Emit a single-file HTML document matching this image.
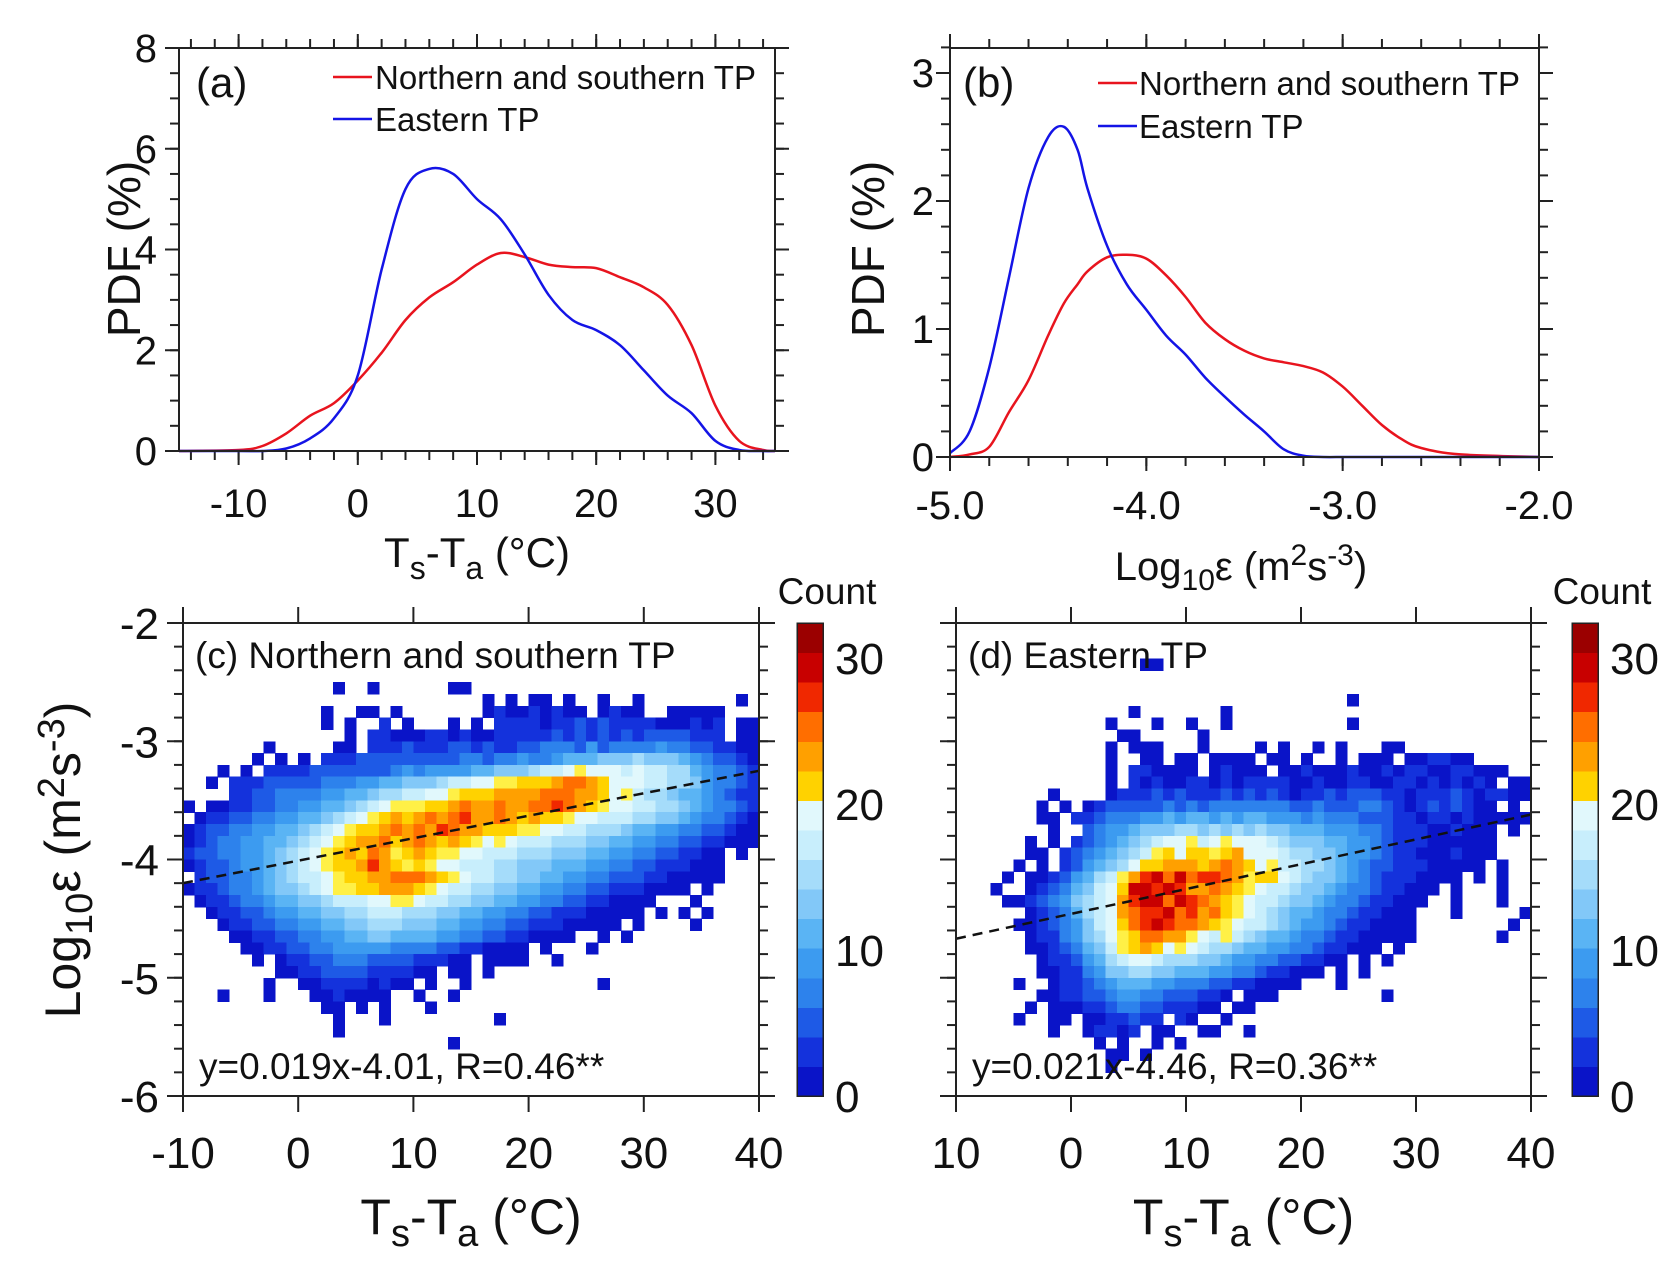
<!DOCTYPE html>
<html><head><meta charset="utf-8"><style>
html,body{margin:0;padding:0;background:#fff}
svg{display:block;font-family:"Liberation Sans",Arial,sans-serif}
</style></head><body>
<svg id="fig" width="1676" height="1277" viewBox="0 0 1676 1277" xmlns="http://www.w3.org/2000/svg">
<rect width="1676" height="1277" fill="#fff"/>
</svg>
<script>
// ---- Panel (a) data ----
const aX = [-15,-10,-8,-6,-4,-2,0,2,4,6,8,10,12,14,16,18,20,22,24,26,28,30,32,34,35];
const aRed = [0,0.02,0.1,0.35,0.7,0.95,1.4,1.95,2.6,3.05,3.35,3.7,3.93,3.85,3.7,3.65,3.63,3.45,3.25,2.9,2.1,0.9,0.2,0.02,0];
const aBlue = [0,0,0,0.05,0.25,0.65,1.5,3.6,5.2,5.6,5.5,5.0,4.6,3.9,3.1,2.6,2.4,2.1,1.6,1.1,0.75,0.2,0.02,0,0];
const aXTicks = [-10,0,10,20,30];
const aYTicks = [0,2,4,6,8];
// ---- Panel (b) data ----
const bX = [-5,-4.9,-4.8,-4.7,-4.6,-4.5,-4.42,-4.35,-4.3,-4.2,-4.1,-4.0,-3.9,-3.8,-3.7,-3.6,-3.5,-3.4,-3.3,-3.2,-3.1,-3.0,-2.9,-2.8,-2.7,-2.6,-2.4,-2.0];
const bBlue = [0.03,0.2,0.7,1.4,2.1,2.5,2.58,2.4,2.1,1.65,1.35,1.15,0.95,0.8,0.62,0.47,0.33,0.2,0.06,0.01,0,0,0,0,0,0,0,0];
const bRed = [0,0.02,0.08,0.35,0.6,0.95,1.2,1.35,1.45,1.56,1.58,1.55,1.42,1.25,1.05,0.92,0.83,0.77,0.74,0.71,0.66,0.55,0.4,0.25,0.14,0.07,0.02,0];
const bXTicks = ["-5.0","-4.0","-3.0","-2.0"];
const bYTicks = [0,1,2,3];
// ---- Heatmap data (levels: '.' empty, hex 0-f ; count ~ 2*level+1), rows top(-2) to bottom, cols x=-10..40 step 1 ----
const cRows = [
".......... .......... .......... .......... ..........",
".......... .......... .......... .......... ..........",
".......... .......... .......... .......... ..........",
".......... .......... .......... .......... ..........",
".......... .......... .......... .......... ..........",
".......... ...0..0... ...00..... .......... ..........",
".......... .......... ......0.0. 00.0..0..0 ........0.",
".......... ..0..00.0. ......0100 10100.0100 ..00000...",
".......... ..0.0..1.0 ...0.0.111 1011212111 1000101.00",
".......... ....0.1100 0110100111 1121212121 2222111.00",
".......0.. ...00.1112 1112212112 2333242333 3433221100",
"......0.0. 0.11122222 2222332334 3345556667 6665432210",
"...0.0.111 1222222234 3444455666 7889a99989 8877543321",
"..0.111222 2233344556 6678899aab bbcddcb999 8877643321",
"....112233 3344556778 899abbbccc cdddccb9a8 7765543211",
"0.00112233 44556789aa abbcdccdcc ddedcba998 8776543321",
".011223344 556789abcb cdcdeccdcb cbba998887 7665433210",
"0122334455 6789abbcdc dcedccbbba a998877765 5443322100",
"0123344556 789abccdbc dcbcba9a98 8877766554 4332211000",
"1223344567 89abcbdcab cbaa998887 7766655443 3221100.0.",
"0122344567 89abbcecba ba99888776 6655544332 2111000...",
".122334567 889abbccdd dcba988776 6554433222 1100000...",
"0112334566 789aabbccc ba98877665 5443322111 0000.0....",
".011233455 66788899aa 9887766554 4332211000 0...0.....",
"..01122344 5566778887 7766554433 2211100000 .0.0.0....",
"...0112233 4455667776 6655443322 11100000.0 ....0.....",
"....001122 3344556655 5544332211 0000..0.0. ..........",
".....00112 2334444433 3322110000 .0...0.... ..........",
"......0.01 1223332222 11100.0000 ..0....... ..........",
"........00 1122221111 00.00.0... .......... ..........",
".......0.. 0011110100 .0..0..... ......0... ..........",
"...0...0.. .0010000.. 0..0...... .......... ..........",
".......... ..00.0.0.. .0........ .......... ..........",
".......... ...0...0.. .......0.. .......... ..........",
".......... ...0...... .......... .......... ..........",
".......... .......... ...0...... .......... .........."
];
const dRows = [
".......... .......... .......... .......... ..........",
".......... .......... .......... .......... ..........",
".......... .......... .......... .......... ..........",
".......... ......00.. .......... .......... ..........",
".......... .......... .......... .......... ..........",
".......... .......... .......... .......... ..........",
".......... .......... .......... ....0..... ..........",
".......... .....0.... ...0...... .......... ..........",
".......... ...0...0.. 0..0...... ....0..... ..........",
".......... ....00.... .0........ .......... ..........",
".......... ...0.000.. .0....0.0. .0.0...00. ..........",
".......... ...0..00.0 0.0000.00. 0..0.000.0 01100.....",
".......... ...0.11000 0.01000.00 1000100101 10011000..",
".......... ...0.10100 1101011110 0100110011 0101010.00",
"........0. ...0111212 1112121210 1121222110 1112101100",
".......0.0 .012222232 3233333332 2322233210 1212100.0.",
".......00. 1123334454 5545455444 3433322211 0110100000",
"........0. .234456667 7676767665 5544433211 1001000.0.",
"......0.0. 1234567899 a89a999876 6655443211 1000000...",
"......00.1 2345678ab9 bbabc99987 7665443211 0001000...",
".....0.0.1 245679bbcc cbcdcb9a88 7765432211 100000.0..",
"....0.0012 4578acefdf deedcabb98 7665432111 0000.0.0..",
"...0..0123 5689bffefe ccdcba9887 6654332110 00.0...0..",
"....001234 6789ceffdf edcba98876 6543321100 0..0...0..",
"......0123 5789cdeefd ecdba98765 5433211000 ...0.....0",
".....00123 4689bdefed dcba988765 4432110000 ........0.",
"......0113 4679abddcc a98a876554 3321100000 .......0..",
"......0012 3568abcb9a 9877655443 3211000.0. ..........",
".......011 2457899877 7665443322 1100.0.0.. ..........",
".......001 1346677665 5544332110 00.0.0.... ..........",
".....0..01 1234555443 3322110000 ...0...... ..........",
".......001 1223443322 2110.000.. .......0.. ..........",
"......0.00 0112332211 100.00.... .......... ..........",
".....0..00 .0011211.1 0..0...... .......... ..........",
"........0. .01101.00. .00..0.... .......... ..........",
".......... ..0.0..0.0 .......... .......... ..........",
".......... ...00.0... .......... .......... ..........",
".......... ...0...... .......... .......... .........."
];
const heatXStart = -10, heatXStep = 1, heatYStart = -2, heatYStep = -0.1;
const cFit = [0.019, -4.01];
const dFit = [0.021, -4.46];
const cXTicks = [-10,0,10,20,30,40];
const dXTickLabels = ["10","0","10","20","30","40"];
const dXTicks = [-10,0,10,20,30,40];
const hmYTicks = [-2,-3,-4,-5,-6];
const cbTicks = [0,10,20,30];
const cbColors = ["#0a14c8","#1432dc","#1e5ae6","#2d82ec","#3c9bf0","#5ab4f4","#82c8f8","#a5dcfa","#c8eefc","#e1f8fc","#fff046","#ffd200","#ffa000","#ff6e00","#f02800","#c80000","#9b0000"];

const NS="http://www.w3.org/2000/svg";
const svg=document.getElementById('fig');
function mk(tag,attrs,parent){const e=document.createElementNS(NS,tag);for(const k in attrs)e.setAttribute(k,attrs[k]);(parent||svg).appendChild(e);return e;}
function txt(s,x,y,size,anchor,parent,extra){const t=mk('text',Object.assign({x:x,y:y,'font-size':size,'text-anchor':anchor||'middle',fill:'#111'},extra||{}),parent);t.textContent=s;return t;}
function lin(d0,d1,r0,r1){return v=>r0+(v-d0)/(d1-d0)*(r1-r0);}

function frame(g,L,R,T,B){
  mk('rect',{x:L,y:T,width:R-L,height:B-T,fill:'none',stroke:'#222','stroke-width':2},g);
}
function ticksX(g,sx,vals,T,B,len){vals.forEach(v=>{const x=sx(v);mk('line',{x1:x,x2:x,y1:B,y2:B+len,stroke:'#222','stroke-width':2},g);mk('line',{x1:x,x2:x,y1:T,y2:T-len,stroke:'#222','stroke-width':2},g);});}
function ticksY(g,sy,vals,L,R,len){vals.forEach(v=>{const y=sy(v);mk('line',{x1:L,x2:L-len,y1:y,y2:y,stroke:'#222','stroke-width':2},g);mk('line',{x1:R,x2:R+len,y1:y,y2:y,stroke:'#222','stroke-width':2},g);});}
function range(a,b,s){const r=[];for(let v=a;v<=b+1e-9;v+=s)r.push(+v.toFixed(4));return r;}
function smoothPath(pts){let d='M'+pts[0][0]+','+pts[0][1];for(let i=0;i<pts.length-1;i++){const p0=pts[Math.max(0,i-1)],p1=pts[i],p2=pts[i+1],p3=pts[Math.min(pts.length-1,i+2)];const c1=[p1[0]+(p2[0]-p0[0])/6,p1[1]+(p2[1]-p0[1])/6],c2=[p2[0]-(p3[0]-p1[0])/6,p2[1]-(p3[1]-p1[1])/6];d+=' C'+c1[0].toFixed(1)+','+c1[1].toFixed(1)+' '+c2[0].toFixed(1)+','+c2[1].toFixed(1)+' '+p2[0].toFixed(1)+','+p2[1].toFixed(1);}return d;}

// ===== Panel a =====
(function(){
  const g=mk('g',{});
  
  
  const L=179,R=775,T=48,B=451;
  const sx=lin(-15,35,L,R), sy=lin(0,8,B,T);
  ticksX(g,sx,range(-14,34,2),T,B,9);ticksX(g,sx,aXTicks,T,B,14);
  ticksY(g,sy,range(0,8,0.5),L,R,9);ticksY(g,sy,aYTicks,L,R,14);
  const red=mk('path',{d:smoothPath(aX.map((x,i)=>[sx(x),sy(aRed[i])])),fill:'none',stroke:'#e8141e','stroke-width':2.5},g);
  
  
  const blue=mk('path',{d:smoothPath(aX.map((x,i)=>[sx(x),sy(aBlue[i])])),fill:'none',stroke:'#1414e6','stroke-width':2.5},g);
  
  
  frame(g,L,R,T,B);
  aXTicks.forEach(v=>txt(String(v),sx(v),517,40,'middle',g));
  aYTicks.forEach(v=>txt(String(v),L-22,sy(v)+14,40,'end',g));
  const yt=txt('PDF (%)',0,0,46,'middle',g,{transform:'translate(140,249) rotate(-90)'});
  
  
  const xt=mk('text',{x:sx(10),y:567,'font-size':42,'text-anchor':'middle',fill:'#111'},g);
  xt.innerHTML='T<tspan font-size="32" dy="12">s</tspan><tspan dy="-12">-T</tspan><tspan font-size="32" dy="12">a</tspan><tspan dy="-12"> (°C)</tspan>';
  
  
  txt('(a)',196,97,42,'start',g);
  const lg=mk('g',{},g);
  
  
  mk('line',{x1:333,x2:372,y1:77,y2:77,stroke:'#e8141e','stroke-width':2.5},lg);
  txt('Northern and southern TP',375,89,33,'start',lg);
  mk('line',{x1:333,x2:372,y1:119,y2:119,stroke:'#1414e6','stroke-width':2.5},lg);
  txt('Eastern TP',375,131,33,'start',lg);
})();

// ===== Panel b =====
(function(){
  const g=mk('g',{});
  
  
  const L=950,R=1539,T=48,B=457;
  const sx=lin(-5,-2,L,R), sy=lin(0,3,B,73);
  ticksX(g,sx,range(-5,-2,0.2),T,B,9);ticksX(g,sx,[-5,-4,-3,-2],T,B,14);
  ticksY(g,sy,range(0,3.2,0.2),L,R,9);ticksY(g,sy,bYTicks,L,R,14);
  const red=mk('path',{d:smoothPath(bX.map((x,i)=>[sx(x),sy(bRed[i])])),fill:'none',stroke:'#e8141e','stroke-width':2.5},g);
  
  
  const blue=mk('path',{d:smoothPath(bX.map((x,i)=>[sx(x),sy(bBlue[i])])),fill:'none',stroke:'#1414e6','stroke-width':2.5},g);
  
  
  frame(g,L,R,T,B);
  bXTicks.forEach(s=>txt(s,sx(parseFloat(s)),519,40,'middle',g));
  bYTicks.forEach(v=>txt(String(v),L-16,sy(v)+14,40,'end',g));
  const yt=txt('PDF (%)',0,0,46,'middle',g,{transform:'translate(884,249) rotate(-90)'});
  
  
  const xt=mk('text',{x:1241,y:580,'font-size':40,'text-anchor':'middle',fill:'#111'},g);
  xt.innerHTML='Log<tspan font-size="30" dy="10">10</tspan><tspan dy="-10">ε (m</tspan><tspan font-size="30" dy="-15">2</tspan><tspan dy="15">s</tspan><tspan font-size="30" dy="-15">-3</tspan><tspan dy="15">)</tspan>';
  
  
  txt('(b)',963,97,42,'start',g);
  const lg=mk('g',{},g);
  
  
  mk('line',{x1:1098,x2:1137,y1:83,y2:83,stroke:'#e8141e','stroke-width':2.5},lg);
  txt('Northern and southern TP',1139,95,33,'start',lg);
  mk('line',{x1:1098,x2:1137,y1:126,y2:126,stroke:'#1414e6','stroke-width':2.5},lg);
  txt('Eastern TP',1139,138,33,'start',lg);
})();

// ===== Heatmap panels =====
function heat(name,rows,fit,L,R,cbL,label,eq,xticks,xlabels,yLabels){
  const T=623,B=1096;
  const g=mk('g',{});
  
  
  const sx=lin(-10,40,L,R), sy=lin(-2,-6,T,B);
  const cg=mk('g',{'shape-rendering':'crispEdges'},g);
  
  
  rows.forEach((rs,ri)=>{
    const s=rs.replace(/ /g,'');
    for(let ci=0;ci<s.length;ci++){
      const ch=s[ci]; if(ch==='.')continue;
      const lev=parseInt(ch,16); const count=lev*2+1;
      const x0=heatXStart+ci*heatXStep, y0=heatYStart+ri*heatYStep;
      const xa=sx(x0), xb=sx(x0+heatXStep), ya=sy(y0), yb=sy(y0+heatYStep);
      const idx=Math.min(cbColors.length-1,Math.floor(count/2));
      mk('rect',{x:xa.toFixed(1),y:ya.toFixed(1),width:(xb-xa+0.6).toFixed(1),height:(yb-ya+0.6).toFixed(1),fill:cbColors[idx]},cg);
    }
  });
  const fl=mk('line',{x1:sx(-10),y1:sy(fit[0]*-10+fit[1]),x2:sx(40),y2:sy(fit[0]*40+fit[1]),stroke:'#111','stroke-width':2.5,'stroke-dasharray':'10,7'},g);
  
  
  ticksX(g,sx,xticks,T,B,16);
  ticksY(g,sy,range(-6,-2,0.2),L,R,9);ticksY(g,sy,hmYTicks,L,R,16);
  frame(g,L,R,T,B);
  xticks.forEach((v,i)=>txt(xlabels[i],sx(v),1168,44,'middle',g));
  if(yLabels) hmYTicks.forEach(v=>txt(String(v),L-24,sy(v)+16,44,'end',g));
  const xt=mk('text',{x:(L+R)/2,y:1234,'font-size':50,'text-anchor':'middle',fill:'#111'},g);
  xt.innerHTML='T<tspan font-size="38" dy="12">s</tspan><tspan dy="-12">-T</tspan><tspan font-size="38" dy="12">a</tspan><tspan dy="-12"> (°C)</tspan>';
  
  
  const lt=txt(label,L+12,668,37,'start',g);
  
  
  const et=txt(eq,L+16,1079,37,'start',g);
  
  
  const cb=mk('g',{'shape-rendering':'crispEdges'},g);
  
  
  const cmax=32.4, scb=lin(0,cmax,B,T);
  for(let i=0;i<16;i++){const c=i===15?cbColors[16]:cbColors[i<=9?i:i+1];mk('rect',{x:cbL,y:scb((i+1)*cmax/16),width:26,height:scb(0)-scb(cmax/16)+0.5,fill:c},cb);}
  mk('rect',{x:cbL,y:T,width:26,height:B-T,fill:'none',stroke:'#222','stroke-width':1.5},cb);
  cbTicks.forEach(v=>txt(String(v),cbL+38,scb(v)+16,44,'start',cb));
  const ct=txt('Count',cbL+30,604,37,'middle',g);
  
  
  return g;
}
heat('panel-c',cRows,cFit,183,759,797,'(c) Northern and southern TP','y=0.019x-4.01, R=0.46**',cXTicks,cXTicks.map(String),true);
heat('panel-d',dRows,dFit,956,1531,1572,'(d) Eastern TP','y=0.021x-4.46, R=0.36**',dXTicks,dXTickLabels,false);
const cyt=mk('text',{'font-size':50,'text-anchor':'middle',fill:'#111',transform:'translate(80,860) rotate(-90)'});
cyt.innerHTML='Log<tspan font-size="38" dy="12">10</tspan><tspan dy="-12">ε (m</tspan><tspan font-size="38" dy="-16">2</tspan><tspan dy="16">s</tspan><tspan font-size="38" dy="-16">-3</tspan><tspan dy="16">)</tspan>';


</script>
</body></html>
